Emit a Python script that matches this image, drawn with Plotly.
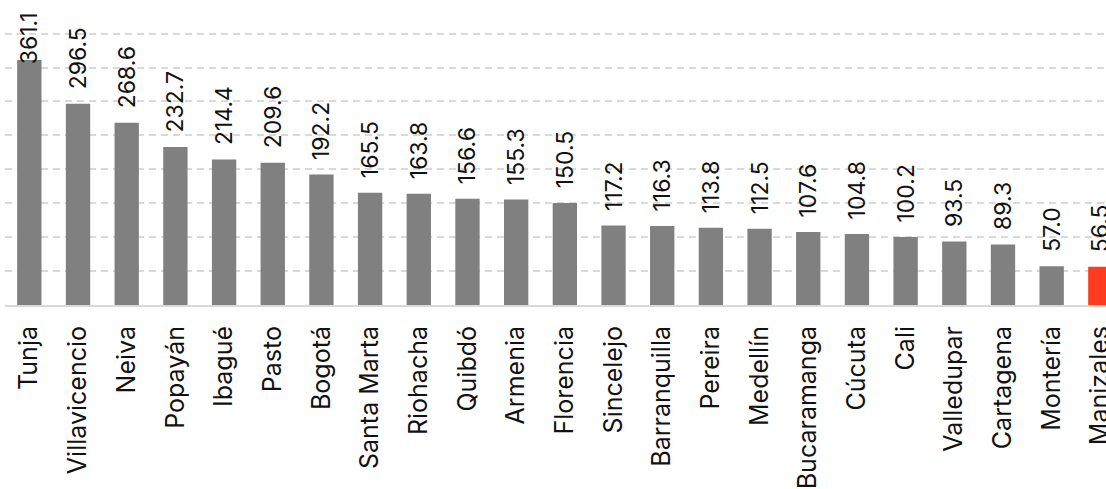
import plotly.graph_objects as go

cities = ["Tunja", "Villavicencio", "Neiva", "Popayán", "Ibagué", "Pasto", "Bogotá",
          "Santa Marta", "Riohacha", "Quibdó", "Armenia", "Florencia", "Sincelejo",
          "Barranquilla", "Pereira", "Medellín", "Bucaramanga", "Cúcuta", "Cali",
          "Valledupar", "Cartagena", "Montería", "Manizales"]
values = [361.1, 296.5, 268.6, 232.7, 214.4, 209.6, 192.2, 165.5, 163.8, 156.6,
          155.3, 150.5, 117.2, 116.3, 113.8, 112.5, 107.6, 104.8, 100.2, 93.5,
          89.3, 57.0, 56.5]
highlight = "Manizales"

GRAY = "#808080"
RED = "#ff3b1f"
FONT = "Inter"
VAL_SIZE = 23
TICK_SIZE = 25

colors = [RED if c == highlight else GRAY for c in cities]
top_idx = values.index(max(values))
# the tallest label is pushed down to stay inside the chart (justified)
templates = ["" if i == top_idx else "\u2002%{y:.1f}" for i in range(len(values))]

fig = go.Figure(go.Bar(
    x=cities, y=values,
    marker=dict(color=colors, line=dict(width=0)),
    texttemplate=templates,
    textposition="outside",
    textangle=-90,
    constraintext="none",
    cliponaxis=True,
    outsidetextfont=dict(family=FONT, size=VAL_SIZE, color="#111111"),
    hoverinfo="skip",
))

fig.add_annotation(
    x=cities[top_idx], y=values[top_idx], xref="x", yref="y",
    text=f"{values[top_idx]:.1f}", textangle=-90, showarrow=False,
    yanchor="bottom", yshift=-6,
    font=dict(family=FONT, size=VAL_SIZE, color="#111111"),
)

fig.update_layout(
    width=1106, height=489,
    margin=dict(l=5, r=0, t=0, b=184, autoexpand=False),
    paper_bgcolor="white", plot_bgcolor="white",
    bargap=0.5,
    showlegend=False,
    font=dict(family=FONT, color="#111111"),
)
fig.update_xaxes(
    range=[-0.5, 22.116],
    automargin=False,
    tickangle=-90,
    tickfont=dict(family=FONT, size=TICK_SIZE, color="#111111"),
    showline=True, linecolor="#d9d9d9", linewidth=2,
    ticks="", ticklabelstandoff=9,
    showgrid=False,
)
fig.update_yaxes(
    range=[0, 449.5], dtick=50,
    automargin=False,
    showticklabels=False,
    showgrid=True, gridcolor="#d9d9d9", gridwidth=1.5, griddash="7px,5px",
    zeroline=False,
)

fig.write_html("out.html", config={"displayModeBar": False},
               post_script="document.body.style.margin='0';")
